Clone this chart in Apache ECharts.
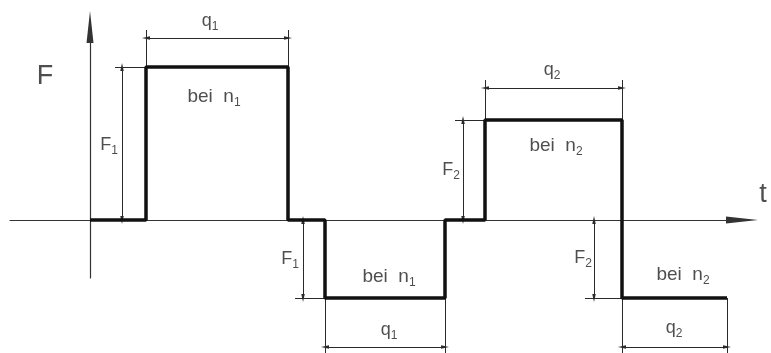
<!DOCTYPE html>
<html><head><meta charset="utf-8">
<script src="https://cdn.jsdelivr.net/npm/echarts@6/dist/echarts.min.js"></script>
<style>html,body{margin:0;padding:0;background:#fff}#c{width:771px;height:353px}</style>
</head><body><div id="c"></div>
<script>
// ---- data (diagram units: t along time axis, F force; not to scale) ----
const pulseStart = [56, 235, 395, 532];
const pulseEnd   = [198, 355, 532, 637];
const pulseLevel = [153, -78, 100, -78];
const forceIdx   = ['1', '1', '2', '2'];   // F1, F1, F2, F2
const speedIdx   = ['1', '1', '2', '2'];   // bei n1 / n2
const durIdx     = ['1', '1', '2', '2'];   // q1 / q2
const axisNames  = ['F', 't'];

// ---- layout (annotation placement) ----
const dimForceT  = [32, 213, 373, 504];
const extForceT0 = [25, 205, 365, 495];
const dimDurF    = [182, -127, 132, -127];
const extDurF    = [190, -133, 140, -133];
const lblForce   = [[19, 75], [200, -39], [361, 50], [493, -38]];
const lblSpeed   = [[124, 123], [299, -57], [466, 74], [593, -55]];
const lblDur     = [[120, 199], [299, -110], [462, 150], [584, -108]];
const lblAxis    = [[-45, 143], [673, 25]];

// ---- build the wave ----
const wave = [[0, 0]];
pulseStart.forEach((s, i) => {
  const e = pulseEnd[i], L = pulseLevel[i];
  wave.push([s, 0], [s, L], [e, L]);
  if (i < pulseStart.length - 1) wave.push([e, 0]);
});

const thin = '#2a2a2a';
const arrowEnd = (a, b) => [
  { coord: a, symbol: 'triangle', symbolSize: [3.5, 8] },
  { coord: b, symbol: 'triangle', symbolSize: [3.5, 8] }
];
const plain = (a, b) => [
  { coord: a, symbol: 'none' },
  { coord: b, symbol: 'none' }
];

const lines = [];
pulseStart.forEach((s, i) => {
  const e = pulseEnd[i], L = pulseLevel[i];
  lines.push(arrowEnd([dimForceT[i], 0], [dimForceT[i], L]));
  lines.push(plain([extForceT0[i], L], [s, L]));
  lines.push(arrowEnd([s, dimDurF[i]], [e, dimDurF[i]]));
  lines.push(plain([s, L], [s, extDurF[i]]));
  lines.push(plain([e, L], [e, extDurF[i]]));
});

const font = 'Liberation Sans, Arial, sans-serif';
const rich = { s: { fontSize: 12, lineHeight: 14, verticalAlign: 'bottom', color: '#222', fontFamily: font } };
const lbl = (pos, text, size) => ({
  value: pos,
  label: {
    show: true, position: 'inside', formatter: text,
    fontSize: size, lineHeight: 24, color: '#222', fontFamily: font, rich: rich
  }
});
const labels = [];
pulseStart.forEach((s, i) => {
  labels.push(lbl(lblForce[i], 'F{s|' + forceIdx[i] + '}', 18));
  labels.push(lbl(lblSpeed[i], 'bei  n{s|' + speedIdx[i] + '}', 19));
  labels.push(lbl(lblDur[i], 'q{s|' + durIdx[i] + '}', 18));
});
axisNames.forEach((n, i) => labels.push(lbl(lblAxis[i], n, 27)));

const hidden = { show: false };
const visAxisLine = { show: true, onZero: true, symbol: ['none', 'triangle'], symbolSize: [7, 32],
  lineStyle: { color: '#333', width: 1.2 } };

const chart = echarts.init(document.getElementById('c'), null, { renderer: 'canvas' });
chart.setOption({
  animation: false,
  backgroundColor: '#fff',
  grid: [
    { left: 0, right: 0, top: 0, bottom: 0 },          // drawing area
    { left: 10, right: 29, top: 27, bottom: 75 }        // visible axes
  ],
  xAxis: [
    { gridIndex: 0, type: 'value', min: -90, max: 681, show: false, splitLine: hidden },
    { gridIndex: 1, type: 'value', min: -80, max: 652, axisLine: visAxisLine,
      axisTick: hidden, axisLabel: hidden, splitLine: hidden }
  ],
  yAxis: [
    { gridIndex: 0, type: 'value', min: -133, max: 220, show: false, splitLine: hidden },
    { gridIndex: 1, type: 'value', min: -58, max: 193, axisLine: visAxisLine,
      axisTick: hidden, axisLabel: hidden, splitLine: hidden }
  ],
  series: [
    {
      type: 'line', xAxisIndex: 0, yAxisIndex: 0, data: wave, symbol: 'none', clip: false, z: 5,
      lineStyle: { color: '#111', width: 3.5 },
      markLine: {
        silent: true, animation: false,
        label: { show: false },
        lineStyle: { color: thin, width: 1, type: 'solid' },
        emphasis: { disabled: true },
        data: lines
      }
    },
    {
      type: 'scatter', xAxisIndex: 0, yAxisIndex: 0, data: labels, symbolSize: 1, clip: false, silent: true,
      itemStyle: { color: 'rgba(0,0,0,0)' }
    }
  ]
});
</script></body></html>
